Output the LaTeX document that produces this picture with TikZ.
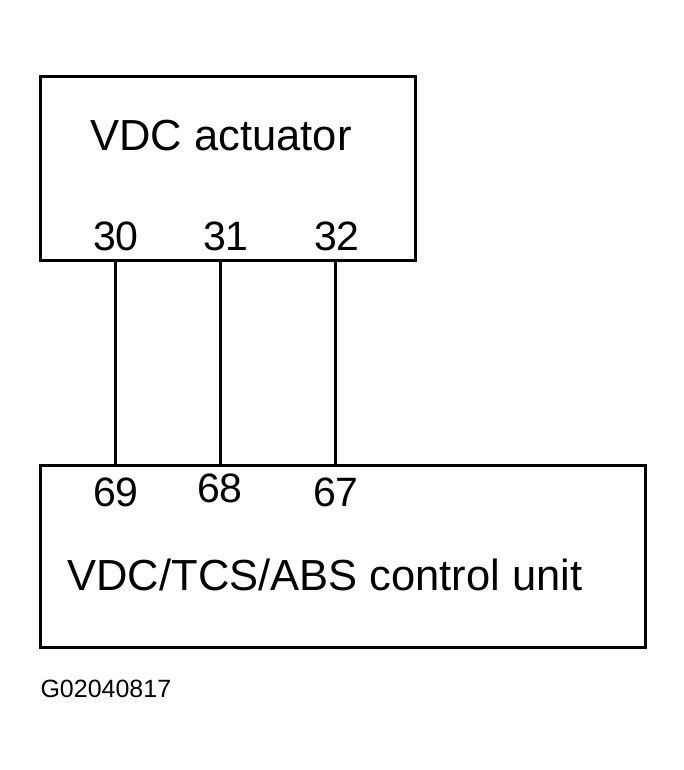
\documentclass[tikz,border=0pt]{standalone}
\usepackage{fontspec}
\setmainfont{Liberation Sans}
\begin{document}
\begin{tikzpicture}[x=1pt,y=-1pt,line width=3pt,
  big/.style={font=\fontsize{43.5}{46}\selectfont,anchor=base,inner sep=0},
  pin/.style={font=\fontsize{41}{44}\selectfont,anchor=base,inner sep=0}]
\useasboundingbox (0,0) rectangle (684,770);
\draw (40,77) rectangle (415,260);
\draw (40,465) rectangle (645,647);
\node[big] (t1) at (221,151) {VDC actuator};
\node[big] (t2) at (325,590) {VDC/TCS/ABS control unit};
\coordinate (a1) at (115,260); \coordinate (b1) at (115,465);
\coordinate (a2) at (220,260); \coordinate (b2) at (220,465);
\coordinate (a3) at (335,260); \coordinate (b3) at (335,465);
\draw (a1) -- (b1); \draw (a2) -- (b2); \draw (a3) -- (b3);
\node[pin] (p30) at (116,250) {30};
\node[pin] (p31) at (226,250) {31};
\node[pin] (p32) at (337,250) {32};
\node[pin] (p69) at (116,506) {69};
\node[pin] (p68) at (220,502) {68};
\node[pin] (p67) at (336,506) {67};
\node[font=\fontsize{25}{27}\selectfont,anchor=base west,inner sep=0] (g) at (39,697) {G02040817};
\end{tikzpicture}
\end{document}
